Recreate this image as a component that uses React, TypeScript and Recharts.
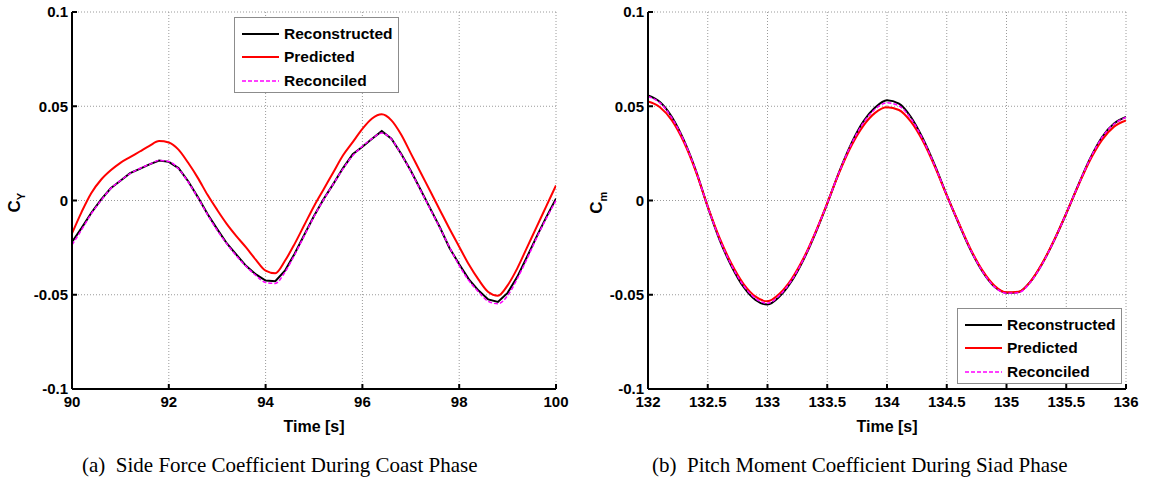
import { LineChart, Line, XAxis, YAxis, CartesianGrid } from 'recharts'

// left panel: side force coefficient, coast phase
const coastTime = [
  90, 90.2, 90.4, 90.6, 90.8, 91, 91.2, 91.4, 91.6, 91.8,
  92, 92.2, 92.4, 92.6, 92.8, 93, 93.2, 93.4, 93.6, 93.8,
  94, 94.2, 94.4, 94.6, 94.8, 95, 95.2, 95.4, 95.6, 95.8,
  96, 96.2, 96.4, 96.6, 96.8, 97, 97.2, 97.4, 97.6, 97.8,
  98, 98.2, 98.4, 98.6, 98.8, 99, 99.2, 99.4, 99.6, 99.8, 100,
]
const cyReconstructed = [
  -0.022, -0.0145, -0.0065, 0.0005, 0.0065, 0.0105, 0.0145, 0.0168, 0.0192, 0.0212,
  0.0205, 0.0172, 0.0102, 0.0018, -0.0072, -0.0152, -0.0228, -0.0288, -0.0348, -0.0392,
  -0.0425, -0.0428, -0.0372, -0.0282, -0.0182, -0.0082, 0.0008, 0.0088, 0.0172, 0.0245,
  0.0285, 0.0328, 0.0368, 0.0328, 0.0248, 0.0158, 0.0058, -0.0042, -0.0142, -0.0252,
  -0.0338, -0.0418, -0.0478, -0.0525, -0.0538, -0.049, -0.0405, -0.03, -0.0192, -0.0088, 0.001,
]
const cyPredicted = [
  -0.0175, -0.006, 0.004, 0.011, 0.016, 0.02, 0.023, 0.026, 0.029, 0.0315,
  0.0308, 0.027, 0.02, 0.012, 0.003, -0.005, -0.0125, -0.019, -0.025, -0.0315,
  -0.0372, -0.0386, -0.032, -0.023, -0.013, -0.003, 0.006, 0.015, 0.024, 0.031,
  0.038, 0.0435, 0.0457, 0.0425, 0.035, 0.025, 0.015, 0.005, -0.005, -0.015,
  -0.0245, -0.034, -0.042, -0.0485, -0.0505, -0.045, -0.036, -0.025, -0.014, -0.003, 0.008,
]
const cyReconciled = [
  -0.0235, -0.0155, -0.007, 0.0, 0.0063, 0.0105, 0.0143, 0.017, 0.0192, 0.0212,
  0.0207, 0.0168, 0.0098, 0.0015, -0.0075, -0.0158, -0.023, -0.0295, -0.035, -0.0398,
  -0.0435, -0.044, -0.038, -0.0288, -0.0186, -0.0085, 0.0005, 0.0088, 0.0168, 0.0238,
  0.0288, 0.0328, 0.0358, 0.0325, 0.0245, 0.0155, 0.0055, -0.0045, -0.0145, -0.0248,
  -0.0345, -0.0425, -0.0485, -0.0535, -0.0548, -0.0505, -0.0415, -0.031, -0.0198, -0.0095, 0.0,
]

// right panel: pitch moment coefficient, siad phase
const siadTime = [
  132, 132.1, 132.2, 132.3, 132.4, 132.5, 132.6, 132.7, 132.8, 132.9,
  133, 133.1, 133.2, 133.3, 133.4, 133.5, 133.6, 133.7, 133.8, 133.9,
  134, 134.1, 134.2, 134.3, 134.4, 134.5, 134.6, 134.7, 134.8, 134.9,
  135, 135.1, 135.2, 135.3, 135.4, 135.5, 135.6, 135.7, 135.8, 135.9, 136,
]
const cmReconstructed = [
  0.0558, 0.0523, 0.0443, 0.032, 0.016, -0.0034, -0.021, -0.035, -0.0459, -0.0528,
  -0.0552, -0.051, -0.043, -0.0316, -0.0175, -0.0016, 0.0152, 0.03, 0.0417, 0.0493,
  0.0532, 0.0514, 0.0443, 0.0329, 0.0187, 0.0028, -0.0122, -0.0263, -0.0378, -0.0458,
  -0.0489, -0.0486, -0.0431, -0.0334, -0.021, -0.0069, 0.0081, 0.0223, 0.0337, 0.0408, 0.0443,
]
const cmPredicted = [
  0.0525, 0.0495, 0.0425, 0.031, 0.0155, -0.0032, -0.02, -0.0337, -0.0443, -0.051,
  -0.0535, -0.0495, -0.0418, -0.0308, -0.017, -0.0014, 0.0148, 0.0288, 0.0395, 0.0465,
  0.0495, 0.048, 0.0418, 0.0315, 0.018, 0.0027, -0.0118, -0.0258, -0.0372, -0.0452,
  -0.0487, -0.0484, -0.043, -0.0332, -0.0208, -0.0068, 0.0078, 0.0215, 0.0322, 0.0392, 0.0425,
]
const cmReconciled = [
  0.0552, 0.0518, 0.0438, 0.0318, 0.016, -0.0033, -0.0207, -0.0345, -0.0452, -0.052,
  -0.0545, -0.0504, -0.0425, -0.0313, -0.0173, -0.0015, 0.0151, 0.0297, 0.041, 0.0484,
  0.0518, 0.0502, 0.0435, 0.0325, 0.0185, 0.0028, -0.012, -0.0262, -0.0377, -0.0458,
  -0.0492, -0.0489, -0.0434, -0.0336, -0.021, -0.0069, 0.0081, 0.0222, 0.0335, 0.0406, 0.0441,
]

const coastTicks = [90, 92, 94, 96, 98, 100]
const siadTicks = [132, 132.5, 133, 133.5, 134, 134.5, 135, 135.5, 136]
const coefTicks = [-0.1, -0.05, 0, 0.05, 0.1]

const seriesNames = ['Reconstructed', 'Predicted', 'Reconciled']

const coastData = coastTime.map((t, i) => ({
  t,
  rec: cyReconstructed[i],
  pred: cyPredicted[i],
  recon: cyReconciled[i],
}))
const siadData = siadTime.map((t, i) => ({
  t,
  rec: cmReconstructed[i],
  pred: cmPredicted[i],
  recon: cmReconciled[i],
}))

const sans = '"Liberation Sans", Arial, sans-serif'
const tickStyle = { fontFamily: sans, fontWeight: 700, fontSize: 15, fill: '#000' }

function LegendBox({ left, top }: { left: number; top: number }) {
  const rows = [
    { name: seriesNames[0], color: '#000000', dash: undefined, w: 2 },
    { name: seriesNames[1], color: '#ff0000', dash: undefined, w: 2 },
    { name: seriesNames[2], color: '#ff00ff', dash: '4 2', w: 1.5 },
  ]
  return (
    <div
      style={{
        position: 'absolute',
        left,
        top,
        width: 165,
        height: 76,
        border: '1px solid #8c8c8c',
        background: '#fff',
        boxSizing: 'border-box',
        paddingTop: 4,
      }}
    >
      {rows.map((r) => (
        <div key={r.name} style={{ display: 'flex', alignItems: 'center', height: 23.5 }}>
          <svg width={44} height={10} style={{ marginLeft: 5 }}>
            <line x1={2} y1={5} x2={39} y2={5} stroke={r.color} strokeWidth={r.w} strokeDasharray={r.dash} />
          </svg>
          <span style={{ fontFamily: sans, fontWeight: 700, fontSize: 15.5, color: '#000' }}>{r.name}</span>
        </div>
      ))}
    </div>
  )
}

interface PanelProps {
  data: Array<{ t: number; rec: number; pred: number; recon: number }>
  width: number
  yAxisWidth: number
  right: number
  xDomain: [number, number]
  xTicks: number[]
  recType: 'linear' | 'monotone'
}

function Panel({ data, width, yAxisWidth, right, xDomain, xTicks, recType }: PanelProps) {
  return (
    <LineChart width={width} height={440} data={data} margin={{ top: 12, right, bottom: 0, left: 0 }}>
      <CartesianGrid stroke="#9a9a9a" strokeDasharray="1 2" strokeWidth={1} />
      <XAxis
        dataKey="t"
        type="number"
        domain={xDomain}
        ticks={xTicks}
        allowDataOverflow
        height={51}
        stroke="#000"
        strokeWidth={2}
        tickSize={-5}
        tickMargin={12}
        tick={tickStyle}
        label={{ value: 'Time [s]', position: 'insideBottom', offset: 8, style: { ...tickStyle, fontSize: 16 } }}
      />
      <YAxis
        type="number"
        domain={[-0.1, 0.1]}
        ticks={coefTicks}
        width={yAxisWidth}
        stroke="#000"
        strokeWidth={2}
        tickSize={-5}
        tickMargin={9}
        tick={tickStyle}
      />
      <Line
        type={recType}
        dataKey="rec"
        name={seriesNames[0]}
        stroke="#000000"
        strokeWidth={2}
        dot={false}
        isAnimationActive={false}
      />
      <Line
        type="monotone"
        dataKey="pred"
        name={seriesNames[1]}
        stroke="#ff0000"
        strokeWidth={2}
        dot={false}
        isAnimationActive={false}
      />
      <Line
        type="monotone"
        dataKey="recon"
        name={seriesNames[2]}
        stroke="#ff00ff"
        strokeWidth={1.5}
        strokeDasharray="4 2"
        dot={false}
        isAnimationActive={false}
      />
    </LineChart>
  )
}

const yLabel = (x: number, main: string, sub: string) => (
  <div
    style={{
      position: 'absolute',
      left: x - 30,
      top: 190,
      width: 60,
      textAlign: 'center',
      transform: 'rotate(-90deg)',
      fontFamily: sans,
      fontWeight: 700,
      fontSize: 17,
      lineHeight: '20px',
    }}
  >
    {main}
    <sub style={{ fontSize: 11 }}>{sub}</sub>
  </div>
)

const caption = (x: number, text: string) => (
  <div
    style={{
      position: 'absolute',
      left: x,
      top: 452,
      fontFamily: '"Liberation Serif", "Times New Roman", serif',
      fontSize: 21,
      lineHeight: '26px',
      whiteSpace: 'pre',
    }}
  >
    {text}
  </div>
)

export default function App() {
  return (
    <div style={{ position: 'absolute', left: 0, top: 0, width: 1153, height: 480, background: '#fff' }}>
      <div style={{ position: 'absolute', left: 0, top: 0 }}>
        <Panel data={coastData} width={580} yAxisWidth={72} right={24} xDomain={[90, 100]} xTicks={coastTicks} recType="linear" />
      </div>
      <div style={{ position: 'absolute', left: 580, top: 0 }}>
        <Panel data={siadData} width={573} yAxisWidth={68} right={27} xDomain={[132, 136]} xTicks={siadTicks} recType="monotone" />
      </div>
      <LegendBox left={234} top={17} />
      <LegendBox left={957} top={308} />
      {yLabel(18, 'C', 'Y')}
      {yLabel(600, 'C', 'm')}
      {caption(82, '(a)  Side Force Coefficient During Coast Phase')}
      {caption(652, '(b)  Pitch Moment Coefficient During Siad Phase')}
    </div>
  )
}
